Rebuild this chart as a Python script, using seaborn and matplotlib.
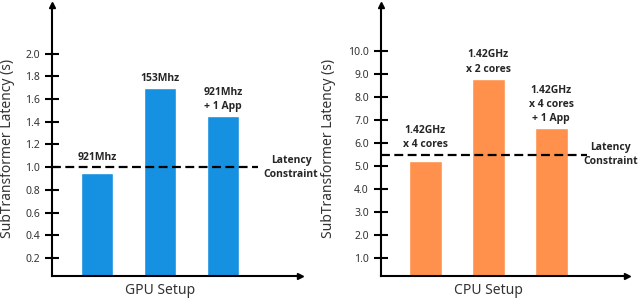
import matplotlib
matplotlib.use("Agg")
import matplotlib.pyplot as plt
import seaborn as sns
import pandas as pd

# ---- data ----
gpu_labels = ["921Mhz", "153Mhz", "921Mhz\n+ 1 App"]
gpu_values = [0.95, 1.70, 1.45]
gpu_constraint = 1.0
gpu_ticks = [0.2, 0.4, 0.6, 0.8, 1.0, 1.2, 1.4, 1.6, 1.8, 2.0]

cpu_labels = ["1.42GHz\nx 4 cores", "1.42GHz\nx 2 cores", "1.42GHz\nx 4 cores\n+ 1 App"]
cpu_values = [5.22, 8.8, 6.65]
cpu_constraint = 5.5
cpu_ticks = [1.0, 2.0, 3.0, 4.0, 5.0, 6.0, 7.0, 8.0, 9.0, 10.0]

sns.set_style("white")
plt.rcParams["font.family"] = ["Noto Sans", "DejaVu Sans"]
BOLD = ["Open Sans", "DejaVu Sans"]

fig = plt.figure(figsize=(6.4, 2.99), dpi=100)
ax1 = fig.add_axes([52/640, 23/299, 248/640, 271/299])
ax2 = fig.add_axes([381/640, 23/299, 246/640, 271/299])

def panel(ax, labels, values, constraint, ticks, ylim, color, xlabel, xlim, cons_x, ylab_x):
    df = pd.DataFrame({"setup": [str(i) for i in range(len(values))], "lat": values})
    sns.barplot(data=df, x="setup", y="lat", color=color, saturation=1, width=0.52, ax=ax)
    ax.set_xlim(*xlim)
    ax.set_ylim(*ylim)
    for sp in ["top", "right"]:
        ax.spines[sp].set_visible(False)
    for sp in ["left", "bottom"]:
        ax.spines[sp].set_linewidth(1.5)
        ax.spines[sp].set_color("black")
    ax.set_xticks([])
    ax.set_yticks(ticks)
    ax.set_yticklabels([f"{t:.1f}" for t in ticks], fontsize=7.5, color="#333333")
    ax.tick_params(axis="y", direction="inout", length=9.5, width=1.5, color="black", pad=4, left=True)
    # arrows
    ax.plot(1, 0, ">k", markersize=5, transform=ax.transAxes, clip_on=False)
    ax.plot(0, 1, "^k", markersize=5, transform=ax.transAxes, clip_on=False)
    # constraint line
    ax.plot([xlim[0], 2.56], [constraint, constraint], color="black", lw=1.6,
            dashes=(4, 2), clip_on=False, zorder=3)
    ax.text(cons_x, constraint, "Latency\nConstraint", ha="center", va="center",
            fontsize=7.5, fontweight="bold", family=BOLD, linespacing=1.4, clip_on=False)
    for i, (lab, v) in enumerate(zip(labels, values)):
        y = max(v, constraint)
        ax.annotate(lab, (i, y), xytext=(0, 3), textcoords="offset points",
                    ha="center", va="bottom", fontsize=7.5, fontweight="bold",
                    family=BOLD, linespacing=1.4)
    ax.set_ylabel("SubTransformer Latency (s)", fontsize=10, color="#333333")
    ax.yaxis.set_label_coords(ylab_x, 0.47)
    ax.yaxis.label.set_va("center")
    ax.set_xlabel(xlabel, fontsize=10, color="#333333")
    ax.xaxis.set_label_coords((1 - xlim[0]) / (xlim[1] - xlim[0]), -0.025)
    ax.xaxis.label.set_va("top")

panel(ax1, gpu_labels, gpu_values, gpu_constraint, gpu_ticks, (0.04, 2.43),
      "#1690E0", "GPU Setup", (-0.714, 3.22), 3.08, -44/248)
panel(ax2, cpu_labels, cpu_values, cpu_constraint, cpu_ticks, (0.23, 12.0),
      "#FF914D", "CPU Setup", (-0.70, 3.2), 2.94, -53/246)

fig.savefig("out.png", dpi=100)
